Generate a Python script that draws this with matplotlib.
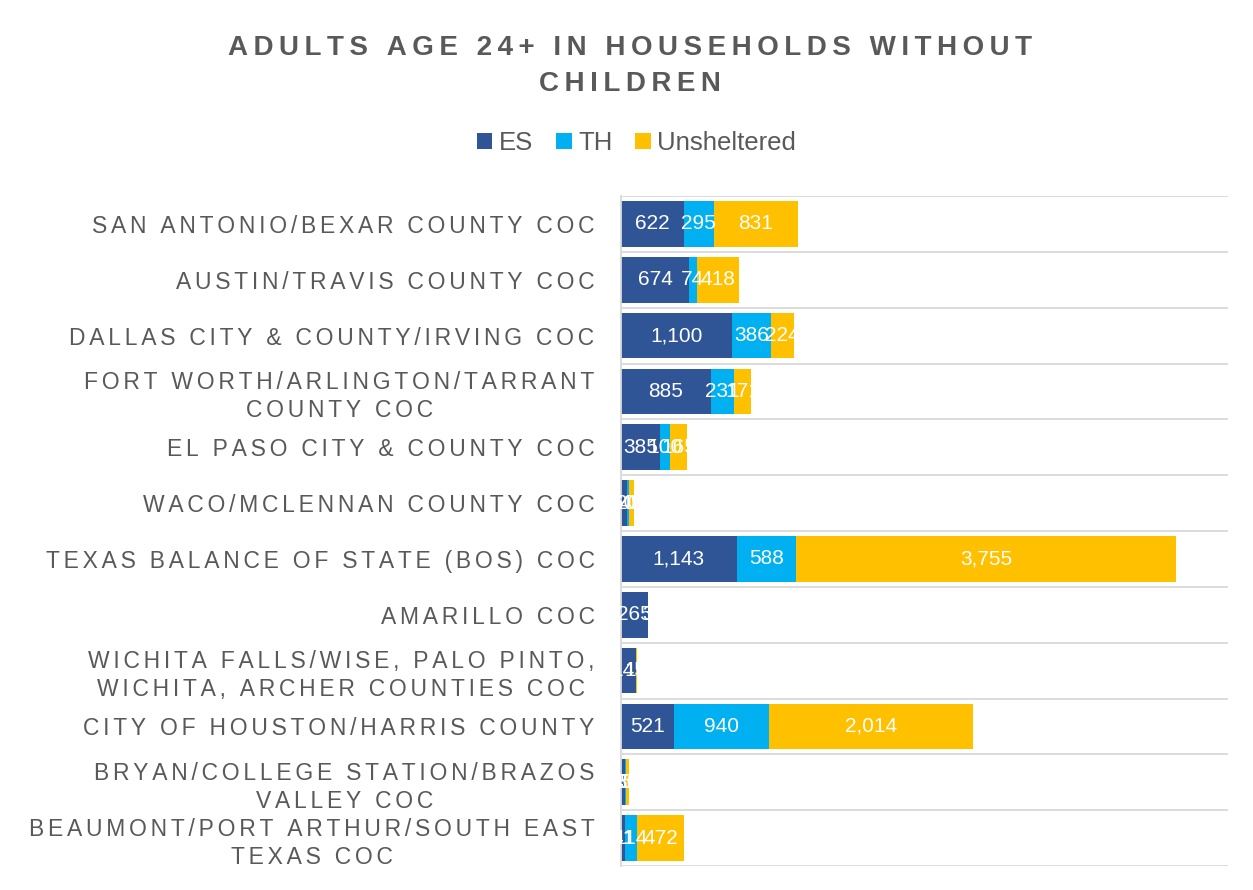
import matplotlib.pyplot as plt
import numpy as np

plt.rcParams['font.family'] = ['Liberation Sans', 'DejaVu Sans']

# Define data.
categories = [
    "SAN ANTONIO/BEXAR COUNTY COC",
    "AUSTIN/TRAVIS COUNTY COC",
    "DALLAS CITY & COUNTY/IRVING COC",
    "FORT WORTH/ARLINGTON/TARRANT\nCOUNTY COC",
    "EL PASO CITY & COUNTY COC",
    "WACO/MCLENNAN COUNTY COC",
    "TEXAS BALANCE OF STATE (BOS) COC",
    "AMARILLO COC",
    "WICHITA FALLS/WISE, PALO PINTO,\nWICHITA, ARCHER COUNTIES COC",
    "CITY OF HOUSTON/HARRIS COUNTY",
    "BRYAN/COLLEGE STATION/BRAZOS\nVALLEY COC",
    "BEAUMONT/PORT ARTHUR/SOUTH EAST\nTEXAS COC",
]
es = [622, 674, 1100, 885, 385, 60, 1143, 265, 145, 521, 40, 41]
th = [295, 74, 386, 231, 100, 20, 588, 0, 0, 940, 5, 114]
unsheltered = [831, 418, 224, 171, 165, 45, 3755, 3, 10, 2014, 30, 472]

series = [("ES", es, "#2F5597"), ("TH", th, "#00B0F0"), ("Unsheltered", unsheltered, "#FFC000")]
gray = "#595959"


def spaced(s, sep="\u2009"):
    return "\n".join(sep.join(line) for line in s.split("\n"))


# Make plot.
fig = plt.figure(figsize=(12.53, 8.9), dpi=100)
ax = fig.add_axes([621 / 1253, 1 - 866 / 890, (1228 - 621) / 1253, (866 - 196) / 890])

y = np.arange(len(categories))
left = np.zeros(len(categories))
for name, vals, color in series:
    vals = np.array(vals, dtype=float)
    bars = ax.barh(y, vals, left=left, height=0.82, color=color, label=name)
    labels = [f"{v:,.0f}" if v > 0 else "" for v in vals]
    ax.bar_label(bars, labels=labels, label_type="center", color="white", fontsize=15)
    left += vals

ax.set_xlim(0, 6000)
ax.set_ylim(len(categories) - 0.5, -0.5)
ax.set_xticks([])
ax.set_yticks(y)
ax.set_yticklabels([spaced(c, "\u2006") for c in categories], fontsize=16.5, color=gray,
                   multialignment="center", linespacing=1.3)
ax.tick_params(axis="y", length=0, pad=19)

# Gridlines between categories.
for b in np.arange(-0.5, len(categories), 1.0):
    ax.axhline(b, color="#D9D9D9", lw=1.3, zorder=0)
for s in ["top", "right", "bottom"]:
    ax.spines[s].set_visible(False)
ax.spines["left"].set_color("#D9D9D9")
ax.spines["left"].set_linewidth(1.3)

# Title and legend.
fig.text(0.503, 1 - 66 / 890, spaced("ADULTS AGE 24+ IN HOUSEHOLDS WITHOUT\nCHILDREN"),
         ha="center", va="center", fontsize=20, fontweight="bold", color=gray,
         multialignment="center", linespacing=1.5)
fig.legend(loc="center", bbox_to_anchor=(0.508, 1 - 143 / 890), ncol=3, frameon=False,
           fontsize=18.5, labelcolor=gray, handlelength=0.6, handleheight=0.6,
           handletextpad=0.25, columnspacing=0.9)

plt.savefig("out.png", dpi=100)
